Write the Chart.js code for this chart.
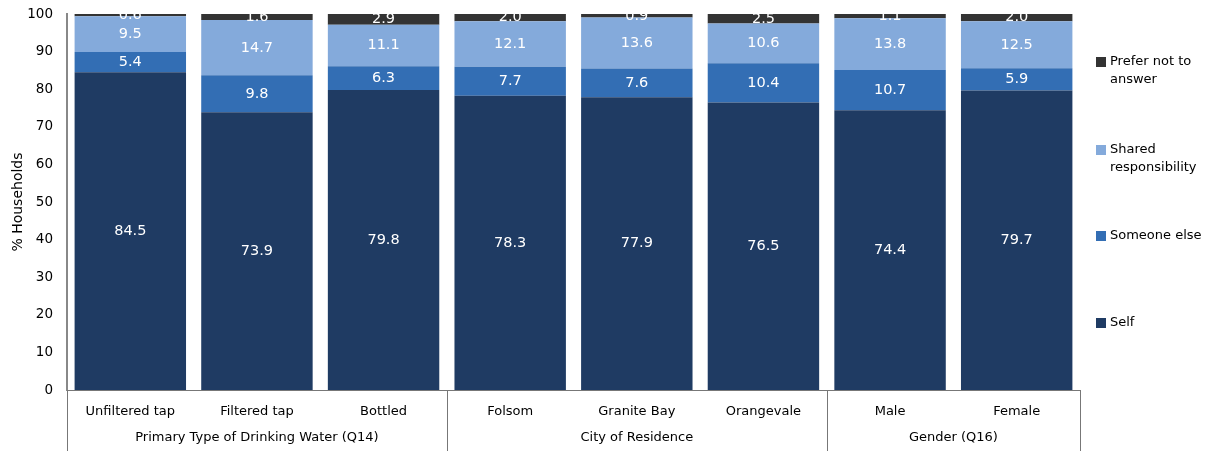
<!DOCTYPE html>
<html>
<head>
<meta charset="utf-8">
<script src="https://cdn.jsdelivr.net/npm/chart.js@4.4.0/dist/chart.umd.min.js"></script>
<style>
  body { margin: 0; background: #fff; }
  #wrap { width: 1211px; height: 451px; }
</style>
</head>
<body>
<div id="wrap"><canvas id="grafico"></canvas></div>
<script>
const categories = ["Unfiltered tap", "Filtered tap", "Bottled", "Folsom", "Granite Bay", "Orangevale", "Male", "Female"];
const groups = ["Primary Type of Drinking Water (Q14)", "City of Residence", "Gender (Q16)"];
const groupSizes = [3, 3, 2];

const selfVals = [84.5, 73.9, 79.8, 78.3, 77.9, 76.5, 74.4, 79.7];
const someoneVals = [5.4, 9.8, 6.3, 7.7, 7.6, 10.4, 10.7, 5.9];
const sharedVals = [9.5, 14.7, 11.1, 12.1, 13.6, 10.6, 13.8, 12.5];
const preferVals = [0.6, 1.6, 2.9, 2.0, 0.9, 2.5, 1.1, 2.0];

const FONT = "'DejaVu Sans', sans-serif";

// etiquetas blancas en el centro de cada segmento
const etiquetas = {
  id: "etiquetas",
  afterDatasetsDraw(chart) {
    const ctx = chart.ctx;
    const a = chart.chartArea;
    ctx.save();
    ctx.beginPath();
    ctx.rect(a.left, a.top, a.right - a.left, a.bottom - a.top);
    ctx.clip();
    ctx.fillStyle = "#fff";
    ctx.font = "14.5px " + FONT;
    ctx.textAlign = "center";
    ctx.textBaseline = "middle";
    chart.data.datasets.forEach((ds, i) => {
      chart.getDatasetMeta(i).data.forEach((bar, j) => {
        ctx.fillText(ds.data[j].toFixed(1), bar.x, (bar.y + bar.base) / 2);
      });
    });
    ctx.restore();
  }
};

// grupos bajo el eje x y lineas separadoras
const grupos = {
  id: "grupos",
  afterDraw(chart) {
    const ctx = chart.ctx;
    const x = chart.scales.x;
    const bottom = chart.chartArea.bottom;
    const paso = x.getPixelForValue(1) - x.getPixelForValue(0);
    ctx.save();
    ctx.strokeStyle = "#777";
    ctx.lineWidth = 1;
    ctx.fillStyle = "#000";
    ctx.font = "13px " + FONT;
    ctx.textAlign = "center";
    ctx.textBaseline = "middle";
    let inicio = 0;
    groupSizes.forEach((n, g) => {
      const izq = x.getPixelForValue(inicio) - paso / 2;
      const der = x.getPixelForValue(inicio + n - 1) + paso / 2;
      [izq, der].forEach(px => {
        ctx.beginPath();
        ctx.moveTo(Math.round(px) + 0.5, bottom);
        ctx.lineTo(Math.round(px) + 0.5, 451);
        ctx.stroke();
      });
      ctx.fillText(groups[g], (izq + der) / 2, 438);
      inicio += n;
    });
    ctx.restore();
  }
};

// leyenda a la derecha
const leyenda = {
  id: "leyenda",
  afterDraw(chart) {
    const ctx = chart.ctx;
    const items = [
      { ds: 3, lines: ["Prefer not to", "answer"], y: 62 },
      { ds: 2, lines: ["Shared", "responsibility"], y: 150 },
      { ds: 1, lines: ["Someone else"], y: 236 },
      { ds: 0, lines: ["Self"], y: 323 }
    ];
    ctx.save();
    ctx.font = "13px " + FONT;
    ctx.textBaseline = "middle";
    ctx.textAlign = "left";
    items.forEach(it => {
      ctx.fillStyle = chart.data.datasets[it.ds].backgroundColor;
      ctx.fillRect(1096, it.y - 5, 10, 10);
      ctx.fillStyle = "#000";
      it.lines.forEach((t, k) => ctx.fillText(t, 1110, it.y + k * 18));
    });
    ctx.restore();
  }
};

new Chart(document.getElementById("grafico"), {
  type: "bar",
  data: {
    labels: categories,
    datasets: [
      { label: "Self", data: selfVals, backgroundColor: "#1F3B63" },
      { label: "Someone else", data: someoneVals, backgroundColor: "#336EB4" },
      { label: "Shared responsibility", data: sharedVals, backgroundColor: "#84AADB" },
      { label: "Prefer not to answer", data: preferVals, backgroundColor: "#333333" }
    ]
  },
  options: {
    responsive: true,
    maintainAspectRatio: false,
    animation: false,
    layout: { padding: { top: 10, right: 131, left: 0, bottom: 0 } },
    datasets: { bar: { categoryPercentage: 1, barPercentage: 0.88 } },
    scales: {
      x: {
        stacked: true,
        grid: { display: false },
        border: { color: "#777", width: 1 },
        ticks: { color: "#000", font: { size: 13, family: FONT }, padding: 6, maxRotation: 0 },
        afterFit(s) { s.height = 61; }
      },
      y: {
        stacked: true,
        min: 0,
        max: 100,
        grid: { display: false },
        border: { color: "#888", width: 2 },
        ticks: { stepSize: 10, color: "#000", font: { size: 13.5, family: FONT }, padding: 6 },
        title: { display: true, text: "% Households", color: "#000", font: { size: 14, family: FONT }, padding: { top: 10, bottom: 0 } },
        afterFit(s) { s.width = 67; }
      }
    },
    plugins: {
      legend: { display: false },
      tooltip: { enabled: false }
    }
  },
  plugins: [etiquetas, grupos, leyenda]
});
</script>
</body>
</html>
